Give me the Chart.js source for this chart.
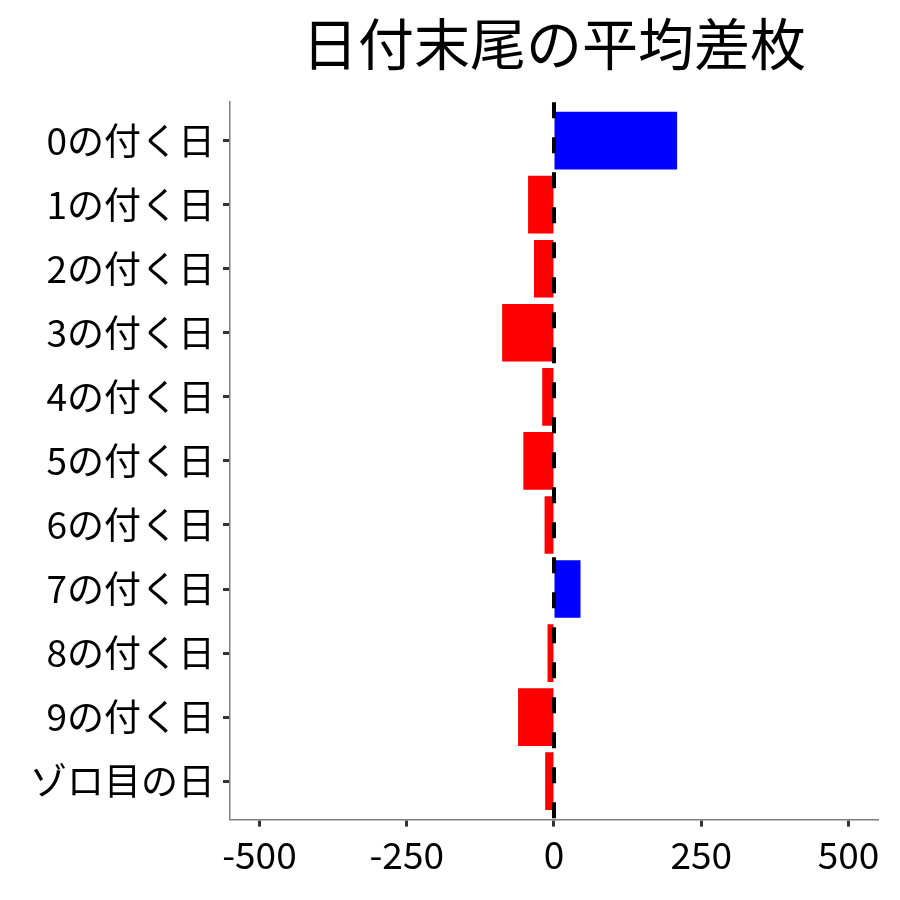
<!DOCTYPE html>
<html>
<head>
<meta charset="utf-8">
<script src="https://cdn.jsdelivr.net/npm/chart.js@4/dist/chart.umd.min.js"></script>
<style>
  html, body { margin: 0; padding: 0; background: #fff; }
</style>
</head>
<body>
<canvas id="barChart" width="900" height="900"></canvas>
<script>
// data
var categories = ['0の付く日', '1の付く日', '2の付く日', '3の付く日', '4の付く日', '5の付く日',
                  '6の付く日', '7の付く日', '8の付く日', '9の付く日', 'ゾロ目の日'];
var diffValues = [209, -44, -34, -88, -20, -52, -16, 45, -11, -61, -15];
var xTicks = [-500, -250, 0, 250, 500];
var titleText = '日付末尾の平均差枚';

var fontFamily = '"Noto Sans CJK JP", "Noto Sans", sans-serif';

// bars placed on a numeric index axis so the ends get ggplot-like 0.6 padding
var barData = diffValues.map(function(v, i) { return { x: v, y: i }; });

// dashed line at x = 0
var zeroLine = {
    id: 'zeroLine',
    afterDatasetsDraw: function(chart) {
        var x = chart.scales.x.getPixelForValue(0);
        var area = chart.chartArea;
        var c = chart.ctx;
        c.save();
        c.strokeStyle = '#000';
        c.lineWidth = 4;
        c.setLineDash([16, 19]);
        c.beginPath();
        c.moveTo(x, area.top);
        c.lineTo(x, area.bottom);
        c.stroke();
        c.restore();
    }
};

var ctx = document.getElementById('barChart').getContext('2d');
var barChart = new Chart(ctx, {
    type: 'bar',
    data: {
        datasets: [{
            data: barData,
            backgroundColor: diffValues.map(function(v) { return v >= 0 ? '#0000ff' : '#ff0000'; }),
            borderWidth: 0,
            barPercentage: 1,
            categoryPercentage: 0.9
        }]
    },
    options: {
        indexAxis: 'y',
        responsive: false,
        animation: false,
        layout: {
            padding: { left: 22, right: 22, top: 10, bottom: 17 }
        },
        plugins: {
            legend: { display: false },
            tooltip: { enabled: false },
            title: {
                display: true,
                text: titleText,
                fullSize: false,
                color: '#000',
                font: { family: fontFamily, size: 56, weight: 'normal' },
                padding: { top: 0, bottom: 25 }
            }
        },
        scales: {
            x: {
                type: 'linear',
                min: -550,
                max: 550,
                afterBuildTicks: function(axis) {
                    axis.ticks = xTicks.map(function(v) { return { value: v }; });
                },
                grid: {
                    drawOnChartArea: false,
                    drawTicks: true,
                    tickLength: 7,
                    tickWidth: 3,
                    tickColor: '#333'
                },
                border: { display: true, color: '#808080', width: 1.5 },
                ticks: {
                    color: '#000',
                    padding: 6,
                    maxRotation: 0,
                    font: { family: fontFamily, size: 37 }
                }
            },
            y: {
                type: 'linear',
                reverse: true,
                offset: false,
                min: -0.6,
                max: categories.length - 0.4,
                afterBuildTicks: function(axis) {
                    axis.ticks = categories.map(function(c, i) { return { value: i }; });
                },
                grid: {
                    offset: false,
                    drawOnChartArea: false,
                    drawTicks: true,
                    tickLength: 7,
                    tickWidth: 3,
                    tickColor: '#333'
                },
                border: { display: true, color: '#808080', width: 1.5 },
                ticks: {
                    color: '#000',
                    padding: 8,
                    font: { family: fontFamily, size: 37 },
                    callback: function(value) { return categories[value]; }
                }
            }
        }
    },
    plugins: [zeroLine]
});
</script>
</body>
</html>
